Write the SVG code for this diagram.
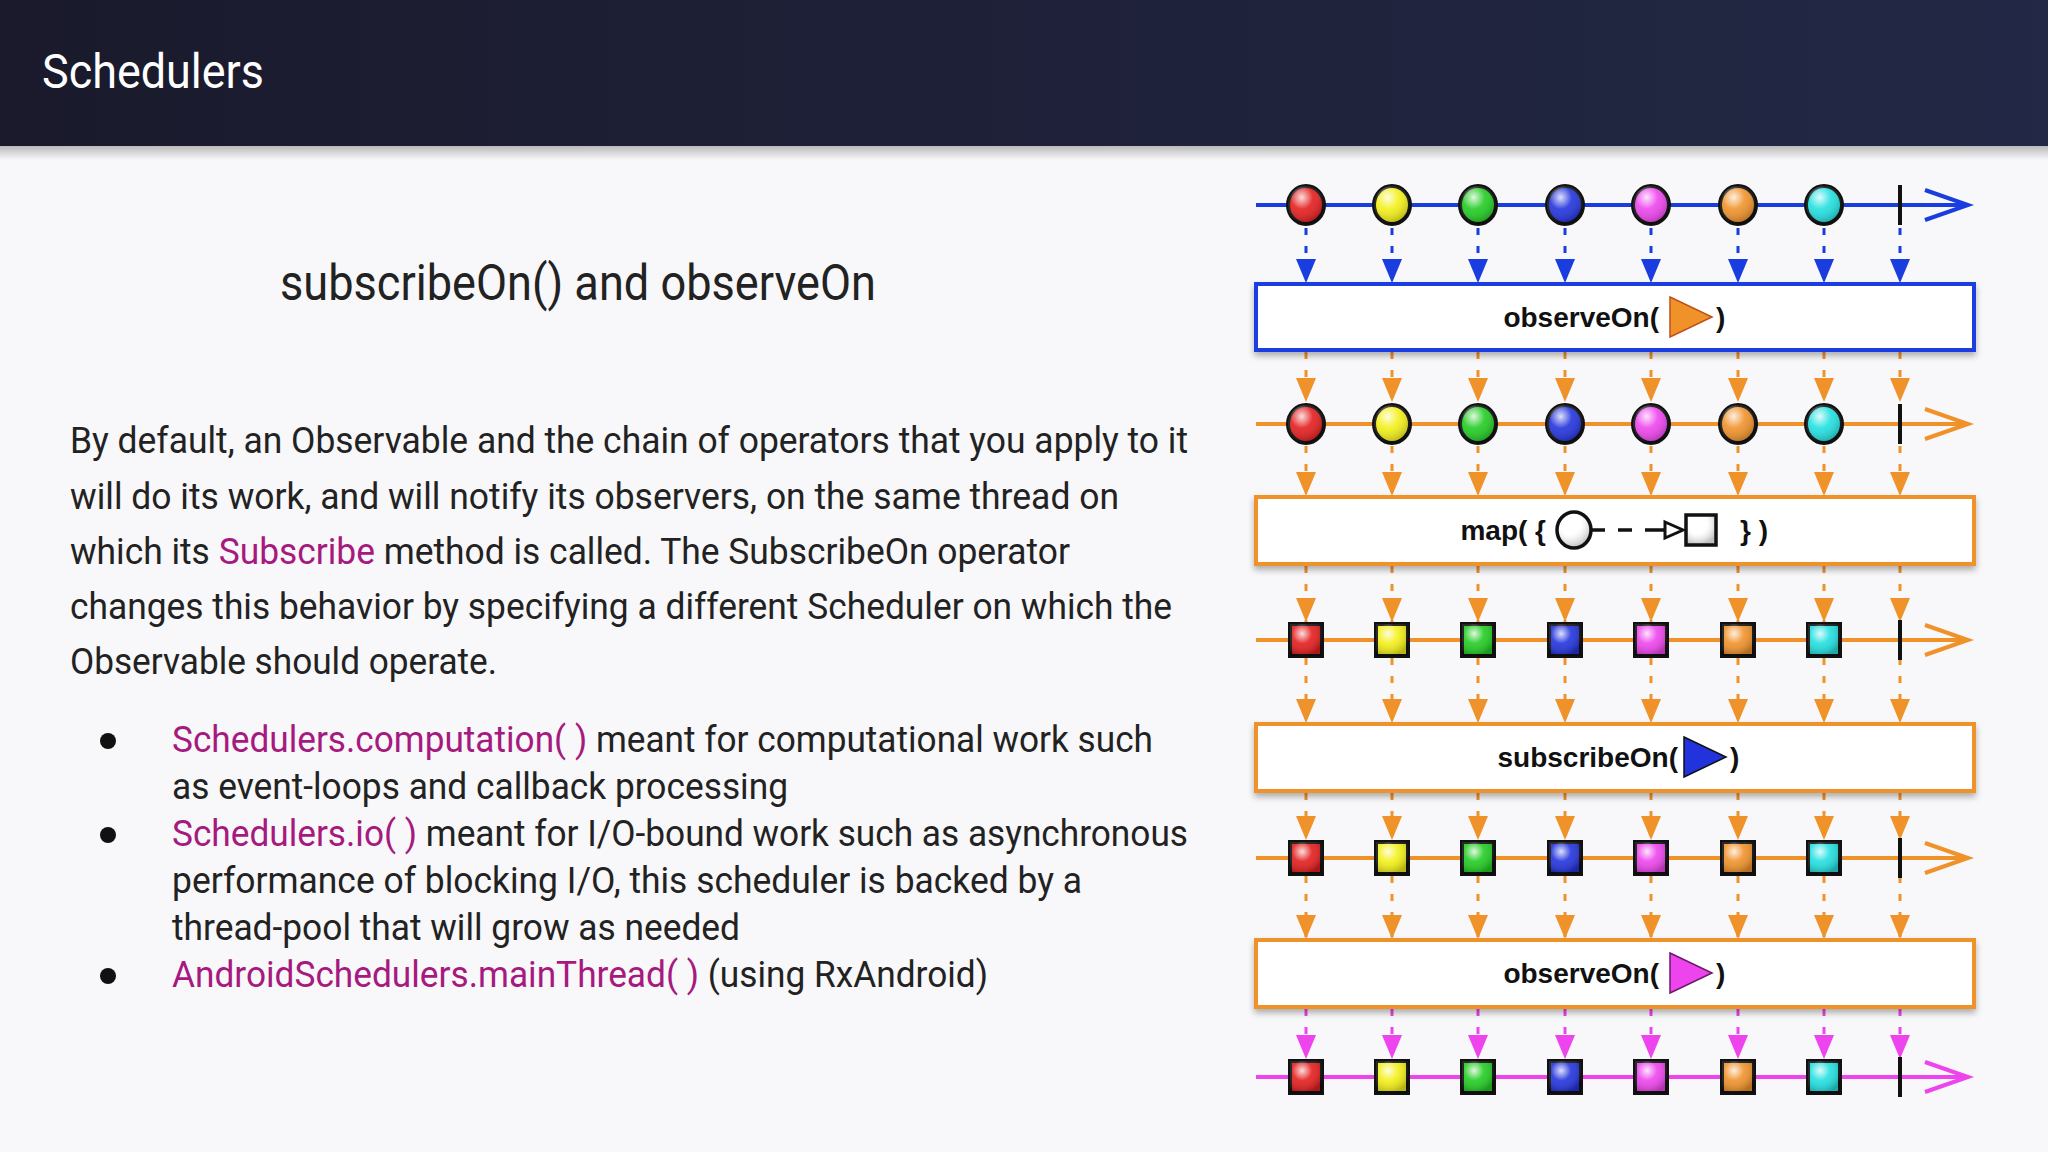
<svg xmlns="http://www.w3.org/2000/svg" xmlns:xlink="http://www.w3.org/1999/xlink" width="2048" height="1152" viewBox="0 0 2048 1152">
<defs>
<linearGradient id="hdr" x1="0" y1="0" x2="1" y2="0"><stop offset="0" stop-color="#1a1a2c"/><stop offset="1" stop-color="#222845"/></linearGradient>
<linearGradient id="sh" x1="0" y1="0" x2="0" y2="1"><stop offset="0" stop-color="#000" stop-opacity="0.25"/><stop offset="1" stop-color="#000" stop-opacity="0"/></linearGradient>
<radialGradient id="hl" cx="0.38" cy="0.3" r="0.7"><stop offset="0" stop-color="#fff" stop-opacity="0.85"/><stop offset="0.45" stop-color="#fff" stop-opacity="0.1"/><stop offset="1" stop-color="#000" stop-opacity="0.25"/></radialGradient>
<marker id="mb" markerUnits="userSpaceOnUse" markerWidth="20" markerHeight="24" refX="10" refY="24" viewBox="0 0 20 24"><path d="M0,0 L20,0 L10,24 z" fill="#1a3de0"/></marker>
<marker id="mo" markerUnits="userSpaceOnUse" markerWidth="20" markerHeight="24" refX="10" refY="24" viewBox="0 0 20 24"><path d="M0,0 L20,0 L10,24 z" fill="#f0922a"/></marker>
<marker id="mm" markerUnits="userSpaceOnUse" markerWidth="20" markerHeight="24" refX="10" refY="24" viewBox="0 0 20 24"><path d="M0,0 L20,0 L10,24 z" fill="#ee44ee"/></marker>
<filter id="ds" x="-5%" y="-20%" width="110%" height="150%"><feDropShadow dx="0" dy="4" stdDeviation="3" flood-opacity="0.3"/></filter>
<g id="col" stroke-width="3" stroke-dasharray="7 11">
<line x1="0" y1="228" x2="0" y2="283" stroke="#1a3de0" marker-end="url(#mb)"/>
<line x1="0" y1="352" x2="0" y2="402" stroke="#f0922a" marker-end="url(#mo)"/>
<line x1="0" y1="446" x2="0" y2="496" stroke="#f0922a" marker-end="url(#mo)"/>
<line x1="0" y1="566" x2="0" y2="622" stroke="#f0922a" marker-end="url(#mo)"/>
<line x1="0" y1="658" x2="0" y2="723" stroke="#f0922a" marker-end="url(#mo)"/>
<line x1="0" y1="793" x2="0" y2="840" stroke="#f0922a" marker-end="url(#mo)"/>
<line x1="0" y1="876" x2="0" y2="939" stroke="#f0922a" marker-end="url(#mo)"/>
<line x1="0" y1="1009" x2="0" y2="1059" stroke="#ee44ee" marker-end="url(#mm)"/>
</g>
<g id="cir"><ellipse rx="18" ry="19"/><ellipse rx="18" ry="19" fill="url(#hl)" stroke="none"/></g>
<g id="sq"><rect x="-16" y="-16" width="32" height="32"/><rect x="-16" y="-16" width="32" height="32" fill="url(#hl)" stroke="none"/></g>
</defs>
<style>
.t{font-family:Roboto,"Liberation Sans",sans-serif;fill:#222}
.m{fill:#a6197f}
.lbl{font-family:"Liberation Sans",Arial,sans-serif;font-weight:bold;font-size:28px;fill:#111}
.box{fill:#fff;stroke-width:4}
.ev{stroke:#111;stroke-width:4}
</style>
<rect width="2048" height="1152" fill="#f8f7f9"/>
<g id="header">
<rect width="2048" height="146" fill="url(#hdr)"/>
<rect y="146" width="2048" height="14" fill="url(#sh)"/>
<text x="42" y="88" font-family="Roboto,'Liberation Sans',sans-serif" font-size="48" fill="#fff" textLength="222" lengthAdjust="spacingAndGlyphs">Schedulers</text>
</g>
<g id="text">
<text class="t" x="280" y="300" font-size="50" fill="#111" textLength="596" lengthAdjust="spacingAndGlyphs">subscribeOn() and observeOn</text>
<text class="t" x="70" y="453" font-size="37" textLength="1118" lengthAdjust="spacingAndGlyphs">By default, an Observable and the chain of operators that you apply to it</text>
<text class="t" x="70" y="509" font-size="37" textLength="1049" lengthAdjust="spacingAndGlyphs">will do its work, and will notify its observers, on the same thread on</text>
<text class="t" x="70" y="564" font-size="37" textLength="1000" lengthAdjust="spacingAndGlyphs">which its <tspan class="m">Subscribe</tspan> method is called. The SubscribeOn operator</text>
<text class="t" x="70" y="619" font-size="37" textLength="1102" lengthAdjust="spacingAndGlyphs">changes this behavior by specifying a different Scheduler on which the</text>
<text class="t" x="70" y="674" font-size="37" textLength="427" lengthAdjust="spacingAndGlyphs">Observable should operate.</text>
<circle cx="108" cy="741" r="8" fill="#111"/>
<circle cx="108" cy="835" r="8" fill="#111"/>
<circle cx="108" cy="976" r="8" fill="#111"/>
<text class="t" x="172" y="752" font-size="37" textLength="981" lengthAdjust="spacingAndGlyphs"><tspan class="m">Schedulers.computation( )</tspan> meant for computational work such</text>
<text class="t" x="172" y="799" font-size="37" textLength="616" lengthAdjust="spacingAndGlyphs">as event-loops and callback processing</text>
<text class="t" x="172" y="846" font-size="37" textLength="1016" lengthAdjust="spacingAndGlyphs"><tspan class="m">Schedulers.io( )</tspan> meant for I/O-bound work such as asynchronous</text>
<text class="t" x="172" y="893" font-size="37" textLength="910" lengthAdjust="spacingAndGlyphs">performance of blocking I/O, this scheduler is backed by a</text>
<text class="t" x="172" y="940" font-size="37" textLength="568" lengthAdjust="spacingAndGlyphs">thread-pool that will grow as needed</text>
<text class="t" x="172" y="987" font-size="37" textLength="816" lengthAdjust="spacingAndGlyphs"><tspan class="m">AndroidSchedulers.mainThread( )</tspan> (using RxAndroid)</text>
</g>
<g id="conn">
<use href="#col" x="1306"/><use href="#col" x="1392"/><use href="#col" x="1478"/><use href="#col" x="1565"/>
<use href="#col" x="1651"/><use href="#col" x="1738"/><use href="#col" x="1824"/><use href="#col" x="1900"/>
</g>
<g id="timelines" stroke-width="4" fill="none">
<path d="M1256,205 H1966 M1925,190 L1968,205 L1925,220" stroke="#1a3de0"/>
<path d="M1256,424 H1966 M1925,409 L1968,424 L1925,439" stroke="#f0922a"/>
<path d="M1256,640 H1966 M1925,625 L1968,640 L1925,655" stroke="#f0922a"/>
<path d="M1256,858 H1966 M1925,843 L1968,858 L1925,873" stroke="#f0922a"/>
<path d="M1256,1077 H1966 M1925,1062 L1968,1077 L1925,1092" stroke="#ee44ee"/>
<path d="M1900,185 V225 M1900,404 V444 M1900,620 V660 M1900,838 V878 M1900,1057 V1097" stroke="#111"/>
</g>
<g id="row1" class="ev">
<use href="#cir" x="1306" y="205" fill="#e41d1d"/><use href="#cir" x="1392" y="205" fill="#f3f017"/><use href="#cir" x="1478" y="205" fill="#22cc22"/><use href="#cir" x="1565" y="205" fill="#2233dd"/><use href="#cir" x="1651" y="205" fill="#ee44ee"/><use href="#cir" x="1738" y="205" fill="#f0922a"/><use href="#cir" x="1824" y="205" fill="#22e0e0"/>
</g>
<g id="row2" class="ev">
<use href="#cir" x="1306" y="424" fill="#e41d1d"/><use href="#cir" x="1392" y="424" fill="#f3f017"/><use href="#cir" x="1478" y="424" fill="#22cc22"/><use href="#cir" x="1565" y="424" fill="#2233dd"/><use href="#cir" x="1651" y="424" fill="#ee44ee"/><use href="#cir" x="1738" y="424" fill="#f0922a"/><use href="#cir" x="1824" y="424" fill="#22e0e0"/>
</g>
<g id="row3" class="ev">
<use href="#sq" x="1306" y="640" fill="#e41d1d"/><use href="#sq" x="1392" y="640" fill="#f3f017"/><use href="#sq" x="1478" y="640" fill="#22cc22"/><use href="#sq" x="1565" y="640" fill="#2233dd"/><use href="#sq" x="1651" y="640" fill="#ee44ee"/><use href="#sq" x="1738" y="640" fill="#f0922a"/><use href="#sq" x="1824" y="640" fill="#22e0e0"/>
</g>
<g id="row4" class="ev">
<use href="#sq" x="1306" y="858" fill="#e41d1d"/><use href="#sq" x="1392" y="858" fill="#f3f017"/><use href="#sq" x="1478" y="858" fill="#22cc22"/><use href="#sq" x="1565" y="858" fill="#2233dd"/><use href="#sq" x="1651" y="858" fill="#ee44ee"/><use href="#sq" x="1738" y="858" fill="#f0922a"/><use href="#sq" x="1824" y="858" fill="#22e0e0"/>
</g>
<g id="row5" class="ev">
<use href="#sq" x="1306" y="1077" fill="#e41d1d"/><use href="#sq" x="1392" y="1077" fill="#f3f017"/><use href="#sq" x="1478" y="1077" fill="#22cc22"/><use href="#sq" x="1565" y="1077" fill="#2233dd"/><use href="#sq" x="1651" y="1077" fill="#ee44ee"/><use href="#sq" x="1738" y="1077" fill="#f0922a"/><use href="#sq" x="1824" y="1077" fill="#22e0e0"/>
</g>
<g id="box1">
<rect class="box" x="1256" y="284" width="718" height="66" stroke="#1a3de0" filter="url(#ds)"/>
<text class="lbl" x="1659" y="327" text-anchor="end">observeOn(</text>
<path d="M1670,297 L1712,317 L1670,337 z" fill="#f0922a" stroke="#c0501a" stroke-width="1.5"/>
<text class="lbl" x="1716" y="327">)</text>
</g>
<g id="box2">
<rect class="box" x="1256" y="497" width="718" height="67" stroke="#f0922a" filter="url(#ds)"/>
<text class="lbl" x="1546" y="540" text-anchor="end">map( {</text>
<ellipse cx="1574" cy="530" rx="17" ry="18" fill="url(#hl)" stroke="#111" stroke-width="3.5"/>
<path d="M1591,530 H1605 M1618,530 H1632 M1645,530 H1665" stroke="#111" stroke-width="3.5"/>
<path d="M1665,522 L1683,530 L1665,538 z" fill="#fff" stroke="#111" stroke-width="3"/>
<rect x="1686" y="515" width="30" height="30" fill="url(#hl)" stroke="#111" stroke-width="3.5"/>
<text class="lbl" x="1740" y="540">} )</text>
</g>
<g id="box3">
<rect class="box" x="1256" y="724" width="718" height="67" stroke="#f0922a" filter="url(#ds)"/>
<text class="lbl" x="1678" y="767" text-anchor="end">subscribeOn(</text>
<path d="M1684,737 L1726,757 L1684,777 z" fill="#2233dd" stroke="#111" stroke-width="1.5"/>
<text class="lbl" x="1730" y="767">)</text>
</g>
<g id="box4">
<rect class="box" x="1256" y="940" width="718" height="67" stroke="#f0922a" filter="url(#ds)"/>
<text class="lbl" x="1659" y="983" text-anchor="end">observeOn(</text>
<path d="M1670,953 L1712,973 L1670,993 z" fill="#ee44ee" stroke="#6a1a6a" stroke-width="1.5"/>
<text class="lbl" x="1716" y="983">)</text>
</g>
</svg>
